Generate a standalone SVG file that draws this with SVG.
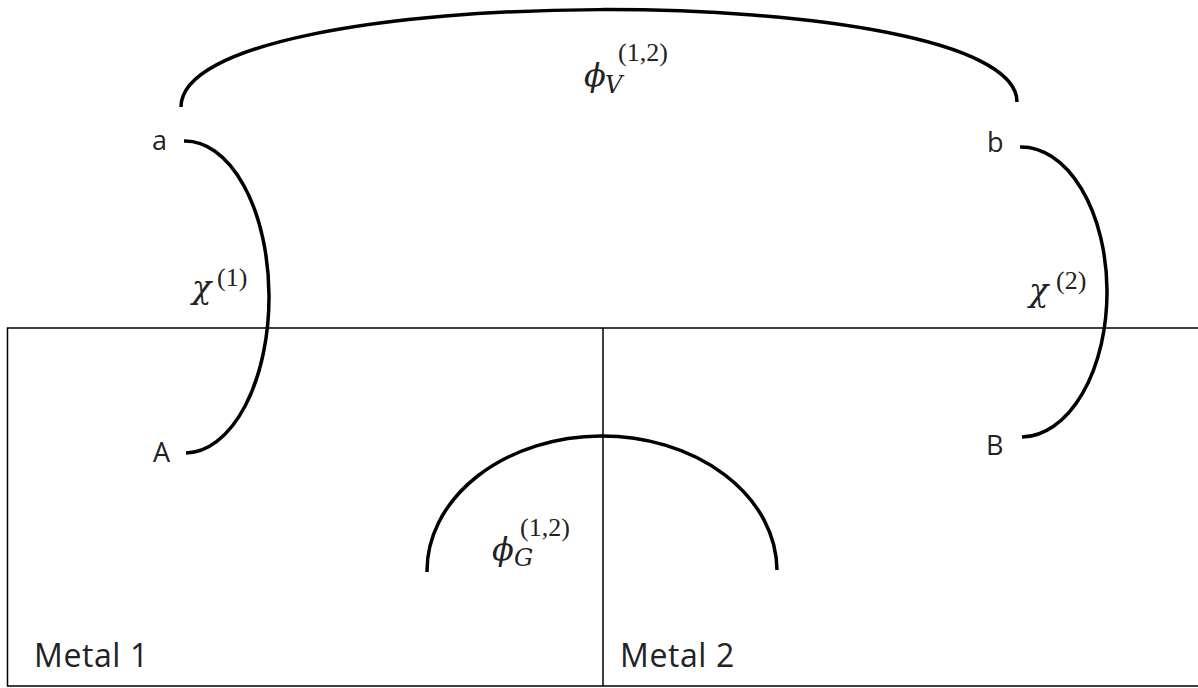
<svg xmlns="http://www.w3.org/2000/svg" width="1198" height="688" viewBox="0 0 1198 688">
<style>
.frame{fill:none;stroke:#000;stroke-width:1.5}
.arc{fill:none;stroke:#000;stroke-width:3.5;stroke-linecap:butt}
.lbl{font-family:"Open Sans","Liberation Sans",sans-serif;font-size:27px;fill:#222}
.mlbl{font-family:"Open Sans","Liberation Sans",sans-serif;font-size:32px;fill:#222}
.math{font-family:"DejaVu Serif","Liberation Serif",serif;fill:#222}
.it{font-style:italic}
.sup{font-family:"Liberation Serif",serif;font-size:26px}
</style>
<rect x="0" y="0" width="1198" height="688" fill="#fff"/>
<g id="metal-box">
<path class="frame" d="M1200,328 H7.5 V686 H1200"/>
<line class="frame" x1="603" y1="328" x2="603" y2="686"/>
<text class="mlbl" x="34" y="667" letter-spacing="0.6">Metal 1</text>
<text class="mlbl" x="620" y="667" letter-spacing="0.6">Metal 2</text>
</g>
<g id="connectors">
<path id="phiV" class="arc" d="M181,107 C181,-22 1017,-22 1017,102"/>
<path id="chi1" class="arc" d="M184,141 A84,156 0 0 1 186,453"/>
<path id="chi2" class="arc" d="M1020,147 A86,145 0 0 1 1022,437"/>
<path id="phiG" class="arc" d="M427,572 A175,135 0 0 1 777,570"/>
</g>
<g id="node-a"><text class="lbl" x="152" y="150">a</text></g>
<g id="node-b"><text class="lbl" x="987" y="152">b</text></g>
<g id="node-A"><text class="lbl" x="153" y="462">A</text></g>
<g id="node-B"><text class="lbl" x="986" y="455">B</text></g>
<g id="label-phiV" class="math">
<text x="584" y="86" font-size="32" class="it">ϕ</text>
<text x="605" y="93" font-size="24" class="it">V</text>
<text x="618" y="61" class="sup">(1,2)</text>
</g>
<g id="label-chi1" class="math">
<text x="192" y="298" font-size="32" class="it">χ</text>
<text x="217" y="286" class="sup">(1)</text>
</g>
<g id="label-chi2" class="math">
<text x="1029" y="301" font-size="32" class="it">χ</text>
<text x="1056" y="289" class="sup">(2)</text>
</g>
<g id="label-phiG" class="math">
<text x="492" y="560" font-size="32" class="it">ϕ</text>
<text x="514" y="566" font-size="24" class="it">G</text>
<text x="520" y="536" class="sup">(1,2)</text>
</g>
</svg>
